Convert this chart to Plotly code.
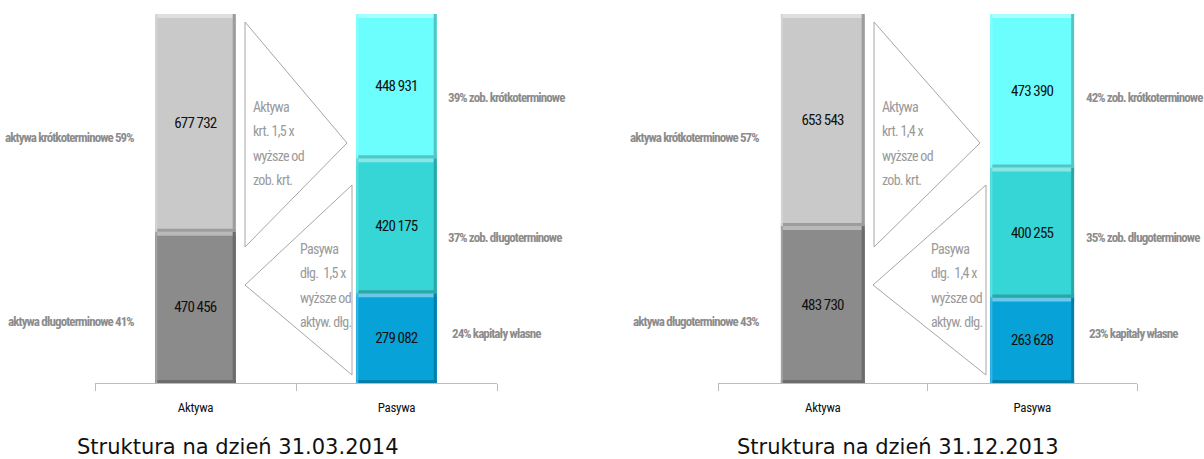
import plotly.graph_objects as go

W, H = 1204, 459

categories = ["Aktywa", "Pasywa"]

# Struktura na dzień 31.03.2014
q1_assets_short = 677732
q1_assets_long = 470456
q1_liab_short = 448931
q1_liab_long = 420175
q1_equity = 279082

# Struktura na dzień 31.12.2013
q4_assets_short = 653543
q4_assets_long = 483730
q4_liab_short = 473390
q4_liab_long = 400255
q4_equity = 263628

titles = ["Struktura na dzień 31.03.2014", "Struktura na dzień 31.12.2013"]

COL = {
    "a_short": "#c9c9c9",
    "a_long": "#8b8b8b",
    "l_short": "#6cfdfd",
    "l_long": "#37d6d6",
    "eq": "#07a3d8",
}

FONT = "Roboto, Liberation Sans, sans-serif"
GRAY_TXT = "#8c8c8c"
ARROW_TXT = "#9a9a9a"
AXIS_COL = "#bcbcbc"
BAR_W = 0.4

# pixel layout of each panel
PANELS = [
    dict(ax0=95, ax1=497, lab_r=136, lab_l=446, lab_l_eq=450,
         up_x=245, up_tip=347, dn_x=352, dn_tip=245, up_txt=251, dn_txt=298, title_x=238),
    dict(ax0=718, ax1=1137, lab_r=761, lab_l=1084, lab_l_eq=1087,
         up_x=874, up_tip=980, dn_x=986, dn_tip=873, up_txt=880, dn_txt=929, title_x=898),
]
BASE_PX, TOP_PX = 383, 14


def px(x):
    return x / W


def py(y):
    return 1 - y / H


def fmt(v):
    return f"{v:,}".replace(",", " ")


def cond(text, ls):
    # condensed face with tightened tracking
    return f"<span style='font-stretch:condensed;letter-spacing:{ls}px'>{text}</span>"


def mix(hexcol, other, t):
    c = [int(hexcol[i:i + 2], 16) for i in (1, 3, 5)]
    o = [int(other[i:i + 2], 16) for i in (1, 3, 5)]
    r = [round(a + (b - a) * t) for a, b in zip(c, o)]
    return "#%02x%02x%02x" % tuple(r)


fig = go.Figure()
shapes = []
annotations = []

data = [
    (q1_assets_short, q1_assets_long, q1_liab_short, q1_liab_long, q1_equity),
    (q4_assets_short, q4_assets_long, q4_liab_short, q4_liab_long, q4_equity),
]

for k, (a_short, a_long, l_short, l_long, eq) in enumerate(data):
    p = PANELS[k]
    xa = "x" if k == 0 else "x2"
    ya = "y" if k == 0 else "y2"
    total = a_short + a_long

    stacks = [
        (0, [(a_long, COL["a_long"]), (a_short, COL["a_short"])]),
        (1, [(eq, COL["eq"]), (l_long, COL["l_long"]), (l_short, COL["l_short"])]),
    ]
    for ci, segs in stacks:
        base = 0
        for v, c in segs:
            fig.add_trace(go.Bar(
                x=[categories[ci]], y=[v], width=BAR_W, xaxis=xa, yaxis=ya,
                marker=dict(color=c, line=dict(width=0)),
                text=[cond(fmt(v), -0.8)], textposition="inside", insidetextanchor="middle",
                textangle=0, textfont=dict(family=FONT, size=15, color="#111111"),
                hoverinfo="skip", showlegend=False,
            ))
            top = base + v
            x0, x1 = ci - BAR_W / 2, ci + BAR_W / 2
            light = mix(c, "#ffffff", 0.4)
            dark = mix(c, "#000000", 0.22)
            # bevelled edges of the segment
            shapes += [
                dict(type="rect", xref=xa, yref=ya, x0=x0, x1=x1, ysizemode="pixel",
                     yanchor=top, y0=-4, y1=0, fillcolor=light, line=dict(width=0)),
                dict(type="rect", xref=xa, yref=ya, x0=x0, x1=x1, ysizemode="pixel",
                     yanchor=base, y0=0, y1=3, fillcolor=dark, line=dict(width=0)),
                dict(type="rect", xref=xa, yref=ya, xsizemode="pixel", xanchor=x1,
                     x0=-3, x1=0, y0=base, y1=top, fillcolor=dark, line=dict(width=0)),
                dict(type="rect", xref=xa, yref=ya, xsizemode="pixel", xanchor=x0,
                     x0=0, x1=2, y0=base, y1=top, fillcolor=mix(c, "#ffffff", 0.2),
                     line=dict(width=0)),
            ]
            base = top

    dom_x = [px(p["ax0"]), px(p["ax1"])]
    dom_y = [py(BASE_PX), py(TOP_PX)]
    xkey = "xaxis" if k == 0 else "xaxis2"
    ykey = "yaxis" if k == 0 else "yaxis2"
    fig.update_layout(**{
        xkey: dict(domain=dom_x, type="category", categoryarray=categories,
                   tickmode="array", tickvals=categories,
                   ticktext=[cond(c, -0.3) for c in categories],
                   range=[-0.5, 1.5], tickson="boundaries", ticks="outside", ticklen=7,
                   tickcolor=AXIS_COL, showline=True, linecolor=AXIS_COL, linewidth=1,
                   showgrid=False, zeroline=False, anchor=ya, fixedrange=True,
                   ticklabelstandoff=12,
                   tickfont=dict(family=FONT, size=13, color="#111111")),
        ykey: dict(domain=dom_y, range=[0, total], visible=False, anchor=xa,
                   fixedrange=True),
    })

    def pct(v):
        return round(100 * v / total)

    side_font = dict(family=FONT, size=13, color=GRAY_TXT)
    side = [
        (p["lab_r"], 137, "right", f"aktywa krótkoterminowe {pct(a_short)}%"),
        (p["lab_r"], 321, "right", f"aktywa długoterminowe {pct(a_long)}%"),
        (p["lab_l"], 98, "left", f"{pct(l_short)}% zob. krótkoterminowe"),
        (p["lab_l"], 237, "left", f"{pct(l_long)}% zob. długoterminowe"),
        (p["lab_l_eq"], 333, "left", f"{pct(eq)}% kapitały własne"),
    ]
    for x, y, anc, t in side:
        annotations.append(dict(x=px(x), y=py(y), xref="paper", yref="paper", xanchor=anc,
                                yanchor="middle", showarrow=False, font=side_font,
                                text=f"<b>{cond(t, -0.9)}</b>"))

    # arrows comparing the two sides
    shapes += [
        dict(type="path", xref="paper", yref="paper",
             path=f"M {px(p['up_x'])} {py(22)} L {px(p['up_tip'])} {py(143)} "
                  f"L {px(p['up_x'])} {py(247)} Z",
             fillcolor="#ffffff", line=dict(color="#a6a6a6", width=1)),
        dict(type="path", xref="paper", yref="paper",
             path=f"M {px(p['dn_x'])} {py(185)} L {px(p['dn_tip'])} {py(285)} "
                  f"L {px(p['dn_x'])} {py(375)} Z",
             fillcolor="#ffffff", line=dict(color="#a6a6a6", width=1)),
    ]
    r_short = f"{a_short / l_short:.1f}".replace(".", ",")
    r_long = f"{(l_long + eq) / a_long:.1f}".replace(".", ",")
    up_lines = ["Aktywa", f"krt. {r_short} x", "wyższe od", "zob. krt."]
    dn_lines = ["Pasywa", f"dłg.&nbsp; {r_long} x", "wyższe od", "aktyw. dłg."]
    arrow_font = dict(family=FONT, size=14, color=ARROW_TXT)
    for i, t in enumerate(up_lines):
        annotations.append(dict(x=px(p["up_txt"]), y=py(107 + 24.3 * i), xref="paper",
                                yref="paper", xanchor="left", yanchor="middle",
                                showarrow=False, text=cond(t, -0.7), font=arrow_font))
    for i, t in enumerate(dn_lines):
        annotations.append(dict(x=px(p["dn_txt"]), y=py(249 + 24.3 * i), xref="paper",
                                yref="paper", xanchor="left", yanchor="middle",
                                showarrow=False, text=cond(t, -0.7), font=arrow_font))

    annotations.append(dict(x=px(p["title_x"]), y=py(447), xref="paper", yref="paper",
                            xanchor="center", yanchor="middle", showarrow=False,
                            text=titles[k],
                            font=dict(family="DejaVu Sans, Verdana, sans-serif", size=21,
                                      color="#111111")))

fig.update_layout(
    width=W, height=H, margin=dict(l=0, r=0, t=0, b=0),
    paper_bgcolor="#ffffff", plot_bgcolor="#ffffff",
    barmode="stack", showlegend=False,
    shapes=shapes, annotations=annotations,
)

fig.write_html("out.html", config={"displayModeBar": False})
